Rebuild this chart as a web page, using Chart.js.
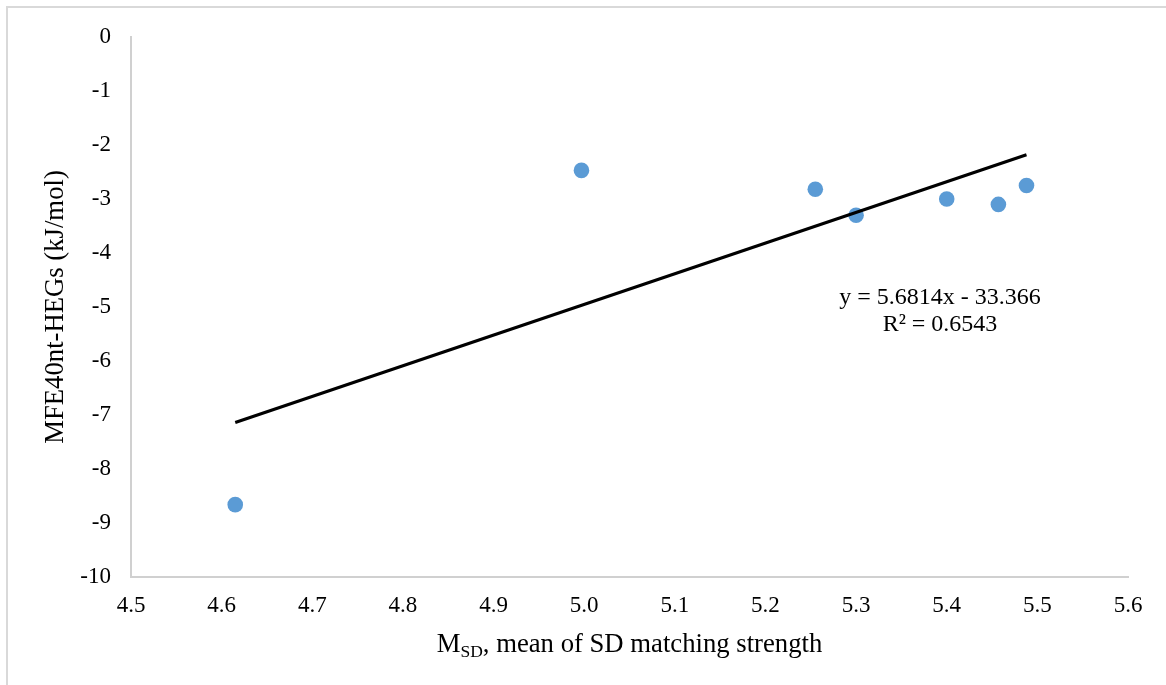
<!DOCTYPE html>
<html>
<head>
<meta charset="utf-8">
<script src="https://cdn.jsdelivr.net/npm/chart.js@4.4.1/dist/chart.umd.min.js"></script>
<style>
  html, body { margin: 0; padding: 0; background: #ffffff; overflow: hidden; }
  #wrap { position: relative; width: 1166px; height: 685px; }
</style>
</head>
<body>
<div id="wrap"><canvas id="c" width="1166" height="685"></canvas></div>
<script>
// ---- data ----
const msdValues = [4.615, 4.997, 5.255, 5.300, 5.400, 5.457, 5.488];
const mfeValues = [-8.66, -2.47, -2.82, -3.30, -3.00, -3.10, -2.75];
const trendX = [4.615, 5.488];
const trendY = [-7.14, -2.18];
const xTickMin = 4.5, xTickMax = 5.6, xTickStep = 0.1;
const yTickMin = -10, yTickMax = 0, yTickStep = 1;
const yTitle = 'MFE40nt-HEGs (kJ/mol)';
const xTitleMain = 'M';
const xTitleSub = 'SD';
const xTitleRest = ', mean of SD matching strength';
const equationLines = ['y = 5.6814x - 33.366', 'R\u00B2 = 0.6543'];

const FONT = '"Liberation Serif", "Times New Roman", serif';

const points = msdValues.map((x, i) => ({ x: x, y: mfeValues[i] }));
const trend = trendX.map((x, i) => ({ x: x, y: trendY[i] }));

const decorPlugin = {
  id: 'decor',
  beforeDraw(chart) {
    const ctx = chart.ctx;
    ctx.save();
    ctx.fillStyle = '#ffffff';
    ctx.fillRect(0, 0, chart.width, chart.height);
    ctx.strokeStyle = '#d9d9d9';
    ctx.lineWidth = 2;
    ctx.strokeRect(7, 7, 1300, 800);
    ctx.restore();
  },
  afterDraw(chart) {
    const ctx = chart.ctx;
    const area = chart.chartArea;
    ctx.save();
    ctx.fillStyle = '#000000';
    // x-axis title with subscript
    const mainFont = '26.7px ' + FONT;
    const subFont = '17.5px ' + FONT;
    ctx.font = mainFont;
    const wM = ctx.measureText(xTitleMain).width;
    const wR = ctx.measureText(xTitleRest).width;
    ctx.font = subFont;
    const wS = ctx.measureText(xTitleSub).width;
    const total = wM + wS + wR;
    const cx = (area.left + area.right) / 2;
    let x0 = cx - total / 2;
    const base = 652;
    ctx.textBaseline = 'alphabetic';
    ctx.textAlign = 'left';
    ctx.font = mainFont;
    ctx.fillText(xTitleMain, x0, base);
    ctx.font = subFont;
    ctx.fillText(xTitleSub, x0 + wM, base + 5);
    ctx.font = mainFont;
    ctx.fillText(xTitleRest, x0 + wM + wS, base);
    // trendline equation
    ctx.font = '24px ' + FONT;
    ctx.textAlign = 'center';
    ctx.fillText(equationLines[0], 940, 304);
    ctx.fillText(equationLines[1], 940, 331);
    ctx.restore();
  }
};

new Chart(document.getElementById('c'), {
  type: 'scatter',
  data: {
    datasets: [
      {
        label: 'Trendline',
        type: 'line',
        data: trend,
        borderColor: '#000000',
        borderWidth: 3.2,
        pointRadius: 0,
        fill: false,
        showLine: true,
        order: 0
      },
      {
        label: 'MFE',
        data: points,
        backgroundColor: '#5b9bd5',
        borderColor: '#5b9bd5',
        borderWidth: 0,
        pointRadius: 7.8,
        pointHoverRadius: 7.8,
        order: 1
      }
    ]
  },
  options: {
    responsive: false,
    animation: false,
    devicePixelRatio: 1,
    layout: { padding: { left: 0, right: 38, top: 37, bottom: 0 } },
    plugins: {
      legend: { display: false },
      tooltip: { enabled: false },
      title: { display: false }
    },
    scales: {
      x: {
        type: 'linear',
        min: xTickMin,
        max: xTickMax,
        grid: { display: true, drawOnChartArea: false, drawTicks: false },
        border: { display: true, color: '#d0d0d0', width: 2 },
        ticks: {
          stepSize: xTickStep,
          padding: 15,
          color: '#000000',
          font: { family: FONT, size: 23 },
          maxRotation: 0,
          autoSkip: false,
          callback: (v) => Number(v).toFixed(1)
        },
        afterFit(scale) { scale.height = 108; }
      },
      y: {
        type: 'linear',
        min: yTickMin,
        max: yTickMax,
        grid: { display: true, drawOnChartArea: false, drawTicks: false },
        border: { display: true, color: '#d0d0d0', width: 2 },
        ticks: {
          stepSize: yTickStep,
          padding: 20,
          color: '#000000',
          font: { family: FONT, size: 23 },
          autoSkip: false,
          callback: (v) => String(v)
        },
        title: {
          display: true,
          text: yTitle,
          color: '#000000',
          font: { family: FONT, size: 26.7 },
          padding: { top: 40, bottom: 0 }
        },
        afterFit(scale) { scale.width = 131; }
      }
    }
  },
  plugins: [decorPlugin]
});
</script>
</body>
</html>
